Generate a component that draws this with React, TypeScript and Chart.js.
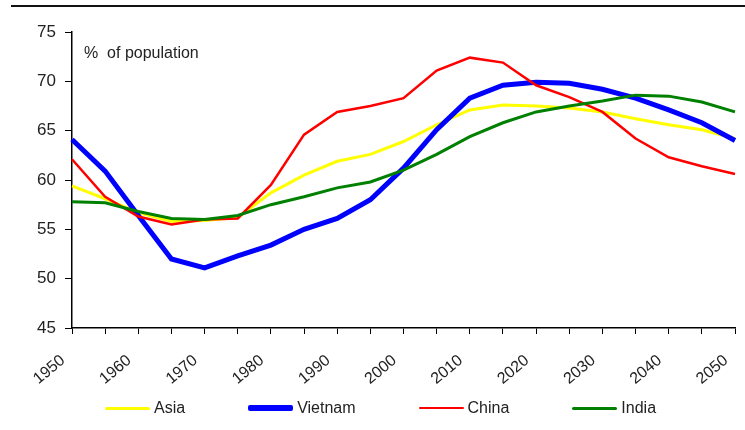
import React, { useEffect, useRef } from 'react';
import { Chart, registerables } from 'chart.js';

Chart.register(...registerables);

// ---- data ----
const years = [1950, 1955, 1960, 1965, 1970, 1975, 1980, 1985, 1990, 1995, 2000,
  2005, 2010, 2015, 2020, 2025, 2030, 2035, 2040, 2045, 2050];
const tickLabels = ['1950', '1960', '1970', '1980', '1990', '2000', '2010', '2020', '2030', '2040', '2050'];
const yTicks = [45, 50, 55, 60, 65, 70, 75];

const asia = [59.4, 58.1, 56.7, 55.8, 55.9, 56.2, 58.7, 60.5, 61.9, 62.6, 63.9,
  65.6, 67.1, 67.6, 67.5, 67.3, 66.9, 66.2, 65.6, 65.1, 64.2];
const vietnam = [64.1, 60.9, 56.4, 52.0, 51.1, 52.3, 53.4, 55.0, 56.1, 58.0, 61.2,
  65.1, 68.3, 69.6, 69.9, 69.8, 69.2, 68.3, 67.1, 65.8, 64.0];
const china = [62.1, 58.3, 56.3, 55.5, 56.0, 56.1, 59.5, 64.6, 66.9, 67.5, 68.3,
  71.1, 72.4, 71.9, 69.6, 68.4, 66.9, 64.2, 62.3, 61.4, 60.6];
const india = [57.8, 57.7, 56.8, 56.1, 56.0, 56.4, 57.5, 58.3, 59.2, 59.8, 61.0,
  62.6, 64.4, 65.8, 66.9, 67.5, 68.0, 68.6, 68.5, 67.9, 66.9];

const seriesNames = ['Asia', 'Vietnam', 'China', 'India'];
const seriesColors = ['#FFFF00', '#0000FF', '#FF0000', '#008000'];
const seriesWidths = [3, 5, 2.5, 3];
const seriesOrder = [3, 2, 1, 0];
const seriesData = [asia, vietnam, china, india];

const FONT = '"Liberation Sans", Arial, Helvetica, sans-serif';
const TEXT = '#222222';

export default function App() {
  const ref = useRef<HTMLCanvasElement | null>(null);

  useEffect(() => {
    if (!ref.current) return;
    const chart = new Chart(ref.current, {
      type: 'line',
      data: {
        labels: years.map(String),
        datasets: seriesNames.map((name, i) => ({
          label: name,
          data: seriesData[i],
          borderColor: seriesColors[i],
          backgroundColor: seriesColors[i],
          borderWidth: seriesWidths[i],
          order: seriesOrder[i],
          pointRadius: 0,
          tension: 0,
          fill: false,
        })),
      },
      options: {
        animation: false,
        responsive: false,
        layout: { padding: { top: 32, right: 10, left: 0, bottom: 0 } },
        plugins: {
          legend: { display: false },
          tooltip: { enabled: false },
        },
        scales: {
          x: {
            type: 'category',
            offset: false,
            grid: {
              display: true,
              drawOnChartArea: false,
              drawTicks: true,
              tickLength: 6,
              color: '#000',
              lineWidth: 1,
            },
            border: { display: true, color: '#000', width: 1.5 },
            ticks: {
              autoSkip: false,
              maxRotation: 40,
              minRotation: 40,
              padding: 17,
              labelOffset: -9,
              color: TEXT,
              font: { family: FONT, size: 16 },
              callback: (_v: any, i: number) => {
                const s = String(years[i]);
                return tickLabels.includes(s) ? s : '';
              },
            },
            afterFit: (s: any) => { s.height = 102; s.paddingRight = 0; s.paddingLeft = 0; },
          },
          y: {
            min: yTicks[0],
            max: yTicks[yTicks.length - 1],
            grid: {
              display: true,
              drawOnChartArea: false,
              drawTicks: true,
              tickLength: 7,
              color: '#000',
              lineWidth: 1,
            },
            border: { display: true, color: '#000', width: 1.5 },
            ticks: {
              stepSize: 5,
              padding: 9,
              color: TEXT,
              font: { family: FONT, size: 17 },
            },
            afterFit: (s: any) => { s.width = 72; },
          },
        },
      },
    } as any);
    return () => chart.destroy();
  }, []);

  return (
    <div style={{ position: 'absolute', left: 0, top: 0, width: 745, height: 430, background: '#fff', fontFamily: FONT }}>
      <div style={{ position: 'absolute', left: 11, top: 5, width: 734, height: 2, background: '#111' }} />
      <canvas ref={ref} width={745} height={430} style={{ position: 'absolute', left: 0, top: 0 }} />
      <div style={{ position: 'absolute', left: 84, top: 44, fontSize: 16, lineHeight: '18px', color: TEXT, whiteSpace: 'pre' }}>
        {'%  of population'}
      </div>
      <div style={{ position: 'absolute', left: 105, top: 398, height: 20, display: 'flex', alignItems: 'center', gap: 63 }}>
        {seriesNames.map((name, i) => (
          <div key={name} style={{ display: 'flex', alignItems: 'center' }}>
            <div style={{ width: 45, height: seriesWidths[i] + (i === 1 ? 1 : 0), background: seriesColors[i], borderRadius: 2, marginRight: 4 }} />
            <span style={{ fontSize: 16, lineHeight: '20px', color: TEXT }}>{name}</span>
          </div>
        ))}
      </div>
    </div>
  );
}
